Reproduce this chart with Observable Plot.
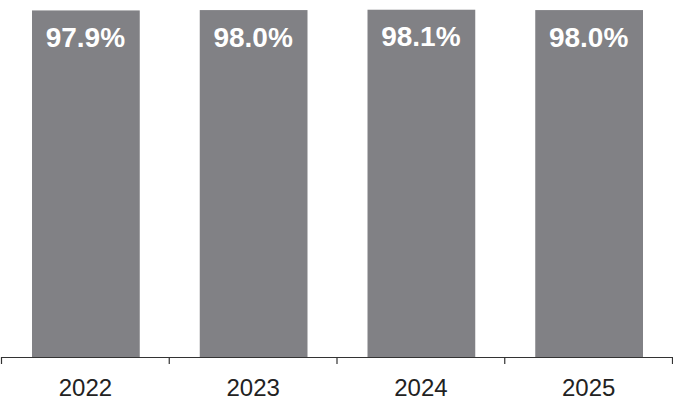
<!DOCTYPE html>
<html>
<head>
<meta charset="utf-8">
<script src="https://cdn.jsdelivr.net/npm/d3@7"></script>
<script src="https://cdn.jsdelivr.net/npm/@observablehq/plot@0.6"></script>
<style>
  html, body { margin: 0; padding: 0; background: #fff; }
  svg { display: block; }
</style>
</head>
<body>
<div id="chart"></div>
<script>
const years = ["2022", "2023", "2024", "2025"];
const values = [97.9, 98.0, 98.1, 98.0];
const labels = ["97.9%", "98.0%", "98.1%", "98.0%"];

const data = years.map((y, i) => ({i, year: y, value: values[i], label: labels[i]}));

const chart = Plot.plot({
  width: 673,
  height: 404,
  marginLeft: 1,
  marginRight: 1,
  marginTop: 3,
  marginBottom: 47,
  style: {fontFamily: "'Liberation Sans', Arial, sans-serif", background: "#fff"},
  x: {type: "linear", domain: [0, years.length], axis: null},
  y: {domain: [0, 100], axis: null},
  marks: [
    Plot.rectY(data, {x1: d => d.i, x2: d => d.i + 1, y: "value", fill: "#818185", insetLeft: 31, insetRight: 29}),
    Plot.text(data, {x: d => d.i + 0.5, y: "value", text: "label", dy: 27, fill: "white", fontWeight: "bold", fontSize: 28}),
    Plot.ruleY([0], {stroke: "#333", strokeWidth: 1.2}),
    Plot.axisX({ticks: d3.range(years.length + 1), tickSize: 7, tickFormat: () => "", stroke: "#333", strokeWidth: 1.2}),
    Plot.axisX({ticks: data.map(d => d.i + 0.5), tickSize: 0, tickPadding: 21, tickFormat: t => years[Math.floor(t)], fontSize: 24, fill: "#222"})
  ]
});
document.getElementById("chart").appendChild(chart);
</script>
</body>
</html>
